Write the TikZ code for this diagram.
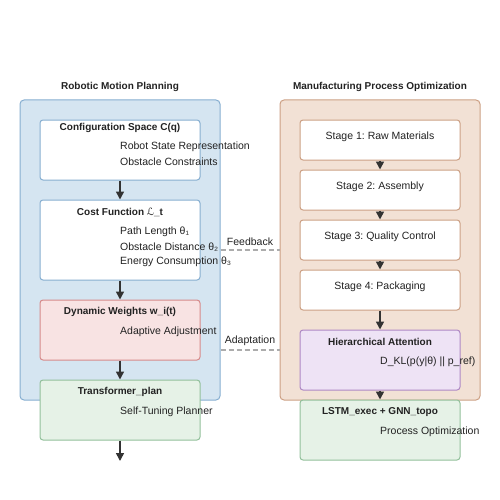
\documentclass[tikz,border=0pt]{standalone}
\usepackage{fontspec}
\setmainfont{Liberation Sans}
\newfontfamily\symfont{DejaVu Sans}
\usepackage{tikz}
\usetikzlibrary{positioning,shapes,arrows,arrows.meta}
\frenchspacing

\definecolor{blueFill}{HTML}{D5E5F1}
\definecolor{blueLine}{HTML}{86AED0}
\definecolor{peachFill}{HTML}{F2E1D5}
\definecolor{peachLine}{HTML}{CCA084}
\definecolor{redFill}{HTML}{F8E3E3}
\definecolor{redLine}{HTML}{D68A8A}
\definecolor{greenFill}{HTML}{E6F2E7}
\definecolor{greenLine}{HTML}{92C09B}
\definecolor{purpleFill}{HTML}{EEE3F5}
\definecolor{purpleLine}{HTML}{AE88C4}
\definecolor{darkArrow}{HTML}{333333}
\definecolor{txt}{HTML}{222222}

\begin{document}
\begin{tikzpicture}[x=1pt, y=-1pt,
	panel/.style={draw, rounded corners=4pt, line width=1pt, minimum width=200pt, minimum height=300pt, inner sep=0pt},
	box/.style={draw, rounded corners=3pt, line width=1pt, minimum width=160pt, inner sep=0pt},
	head/.style={font=\bfseries\fontsize{10}{11}\selectfont, text=txt, inner sep=0pt, yshift=-1.2pt},
	line/.style={font=\fontsize{10.5}{11}\selectfont, text=txt, anchor=west, inner sep=0pt, yshift=-1.2pt},
	flow/.style={-{Triangle[length=8pt,width=8pt]}, line width=1.6pt, darkArrow},
	link/.style={dashed, dash pattern=on 5pt off 3pt, line width=1.3pt, gray!65}]
				\useasboundingbox (0,0) rectangle (500,500);
				% left column
				\node[head] (RT) at (120,86) {Robotic Motion Planning};
				\node[panel, fill=blueFill, draw=blueLine] (RP) at (120,250) {};
				\node[box, fill=white, draw=blueLine, minimum height=60pt] (Cfg) at (120,150) {};
				\node[box, fill=white, draw=blueLine, minimum height=80pt] (Cost) at (120,240) {};
				\node[box, fill=redFill, draw=redLine, minimum height=60pt] (Dyn) at (120,330) {};
				\node[box, fill=greenFill, draw=greenLine, minimum height=60pt] (Trf) at (120,410) {};
				\coordinate (Out) at (120,461);
				\node[head] (CfgH) at (120,127) {Configuration Space C(q)};
				\node[line] (Cfg1) at (120,146) {Robot State Representation};
				\node[line] (Cfg2) at (120,161) {Obstacle Constraints};
				\node[head] (CostH) at (120,211) {Cost Function {\symfont\mdseries ℒ}\_t};
				\node[line] (Cost1) at (120,231) {Path Length θ₁};
				\node[line] (Cost2) at (120,246) {Obstacle Distance θ₂};
				\node[line] (Cost3) at (120,261) {Energy Consumption θ₃};
				\node[head] (DynH) at (120,311) {Dynamic Weights w\_i(t)};
				\node[line] (Dyn1) at (120,331) {Adaptive Adjustment};
				\node[head] (TrfH) at (120,391) {Transformer\_plan};
				\node[line] (Trf1) at (120,411) {Self-Tuning Planner};
				\draw[flow] (Cfg) -- (Cost);
				\draw[flow] (Cost) -- (Dyn);
				\draw[flow] (Dyn) -- (Trf);
				\draw[flow] (Trf) -- (Out);
				% right column
				\node[head] (MT) at (380,86) {Manufacturing Process Optimization};
				\node[panel, fill=peachFill, draw=peachLine] (MP) at (380,250) {};
				\node[box, fill=white, draw=peachLine, minimum height=40pt] (S1) at (380,140) {};
				\node[box, fill=white, draw=peachLine, minimum height=40pt] (S2) at (380,190) {};
				\node[box, fill=white, draw=peachLine, minimum height=40pt] (S3) at (380,240) {};
				\node[box, fill=white, draw=peachLine, minimum height=40pt] (S4) at (380,290) {};
				\node[box, fill=purpleFill, draw=purpleLine, minimum height=60pt] (Att) at (380,360) {};
				\node[box, fill=greenFill, draw=greenLine, minimum height=60pt] (Exe) at (380,430) {};
				\node[line, anchor=center] (S1T) at (380,136) {Stage 1: Raw Materials};
				\node[line, anchor=center] (S2T) at (380,186) {Stage 2: Assembly};
				\node[line, anchor=center] (S3T) at (380,236) {Stage 3: Quality Control};
				\node[line, anchor=center] (S4T) at (380,286) {Stage 4: Packaging};
				\node[head] (AttH) at (380,341) {Hierarchical Attention};
				\node[line] (Att1) at (380,361) {D\_KL(p(y|θ) || p\_ref)};
				\node[head] (ExeH) at (380,411) {LSTM\_exec + GNN\_topo};
				\node[line] (Exe1) at (380,431) {Process Optimization};
				\draw[flow] (S1) -- (S2);
				\draw[flow] (S2) -- (S3);
				\draw[flow] (S3) -- (S4);
				\draw[flow] (S4) -- (Att);
				\draw[flow] (Att) -- (Exe);
				% cross links
				\draw[link] (RP.east |- 0,250) -- node[above=4pt, font=\fontsize{10.5}{11}\selectfont, text=txt, inner sep=0pt] (FB) {Feedback} (MP.west |- 0,250);
				\draw[link] (RP.east |- 0,350) -- node[above=4pt, font=\fontsize{10.5}{11}\selectfont, text=txt, inner sep=0pt] (AD) {Adaptation} (MP.west |- 0,350);
			\end{tikzpicture}
\end{document}
